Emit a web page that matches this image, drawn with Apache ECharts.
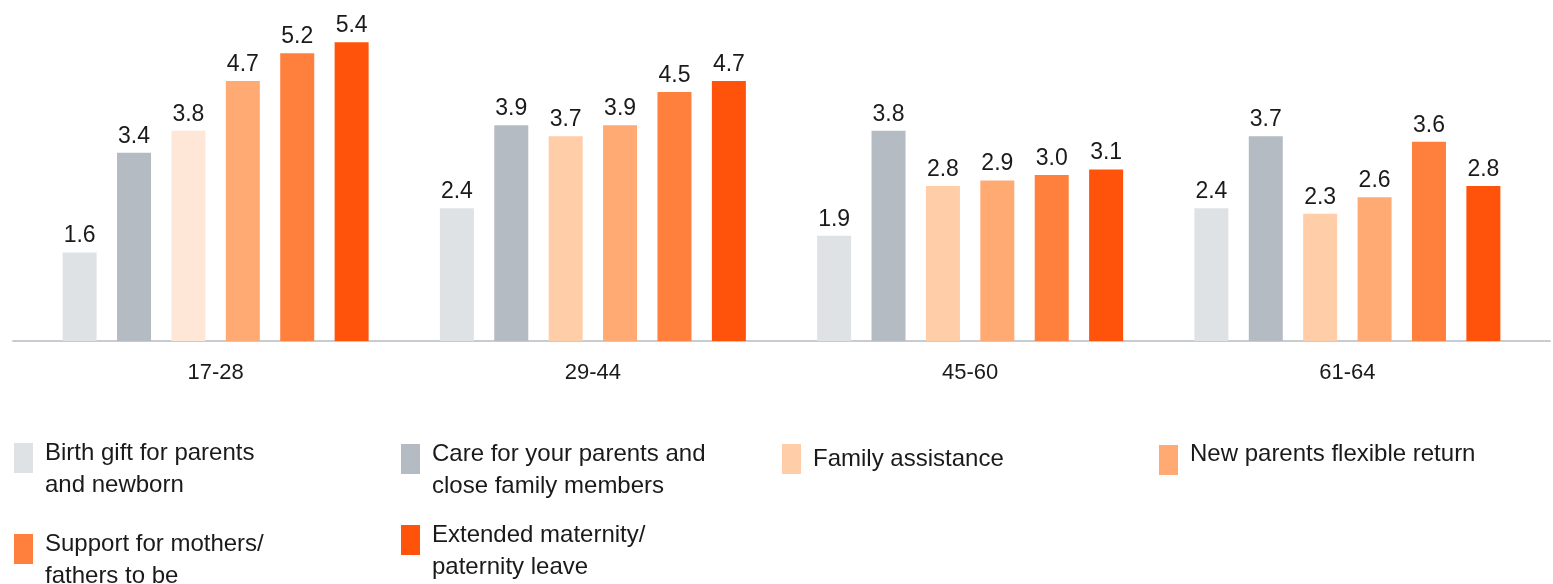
<!DOCTYPE html>
<html>
<head>
<meta charset="utf-8">
<script src="https://cdn.jsdelivr.net/npm/echarts@6/dist/echarts.min.js"></script>
<style>
html,body{margin:0;padding:0;background:#fff;}
#chart{width:1553px;height:584px;}
</style>
</head>
<body>
<div id="chart"></div>
<script>
const categories = ['17-28', '29-44', '45-60', '61-64'];
const seriesNames = [
  'Birth gift for parents and newborn',
  'Care for your parents and close family members',
  'Family assistance',
  'New parents flexible return',
  'Support for mothers/ fathers to be',
  'Extended maternity/ paternity leave'
];
const legendLabels = [
  'Birth gift for parents\nand newborn',
  'Care for your parents and\nclose family members',
  'Family assistance',
  'New parents flexible return',
  'Support for mothers/\nfathers to be',
  'Extended maternity/\npaternity leave'
];
const birthGift = [1.6, 2.4, 1.9, 2.4];
const careForParents = [3.4, 3.9, 3.8, 3.7];
const familyAssistance = [3.8, 3.7, 2.8, 2.3];
const newParentsReturn = [4.7, 3.9, 2.9, 2.6];
const supportMothers = [5.2, 4.5, 3.0, 3.6];
const extendedLeave = [5.4, 4.7, 3.1, 2.8];

const values = [birthGift, careForParents, familyAssistance, newParentsReturn, supportMothers, extendedLeave];
const colors = ['#DFE2E5', '#B5BBC2', '#FFCDA8', '#FFAA72', '#FF7F3C', '#FF520A'];
const FONT = "'Liberation Sans', Arial, Helvetica, sans-serif";

const series = values.map((vals, i) => ({
  name: seriesNames[i],
  type: 'bar',
  xAxisIndex: 0,
  yAxisIndex: 0,
  barWidth: 34,
  barGap: '60%',
  itemStyle: { color: colors[i] },
  data: vals.map((v, j) => (i === 2 && j === 0) ? { value: v, itemStyle: { color: '#FEE7D6' } } : v),
  label: {
    show: true,
    position: 'top',
    distance: 5,
    color: '#1a1a1a',
    fontSize: 23,
    fontFamily: FONT,
    formatter: p => p.value.toFixed(1)
  }
}));

// legend placement: [swatch left, swatch top, spacer above, spacer below]
const legendPos = [
  [14, 443, 22, 0],
  [401, 444, 22, 0],
  [782, 444, 0, 0],
  [1159, 445, 0, 12],
  [14, 534, 22, 0],
  [401, 525, 22, 0]
];
const LH = 32;
const legends = legendPos.map((p, i) => {
  const lines = legendLabels[i].split('\n');
  let txt = lines.join('\n');
  let H = lines.length * LH;
  if (p[2]) { txt = '{sp| }\n' + txt; H += p[2]; }
  if (p[3]) { txt = txt + '\n{sp2| }'; H += p[3]; }
  const off = Math.max(0, H / 2 - 15);
  return {
    data: [seriesNames[i]],
    left: p[0],
    top: p[1] - off,
    padding: 0,
    icon: 'rect',
    itemWidth: 19,
    itemHeight: 30,
    selectedMode: false,
    formatter: () => txt,
    textStyle: {
      fontSize: 24,
      lineHeight: LH,
      fontFamily: FONT,
      color: '#1a1a1a',
      padding: [0, 0, 0, 7],
      rich: {
        sp: { fontSize: 4, lineHeight: p[2] || 1, height: p[2] || 1 },
        sp2: { fontSize: 4, lineHeight: p[3] || 1, height: p[3] || 1 }
      }
    }
  };
});

const chart = echarts.init(document.getElementById('chart'), null, { renderer: 'canvas' });
chart.setOption({
  animation: false,
  backgroundColor: '#ffffff',
  grid: [
    { left: 27, right: 17, top: 9, bottom: 243, containLabel: false },
    { left: 13, right: 3, top: 9, bottom: 243, containLabel: false }
  ],
  xAxis: [
    {
      type: 'category',
      gridIndex: 0,
      data: categories,
      axisLine: { show: false },
      axisTick: { show: false },
      axisLabel: { color: '#1a1a1a', fontSize: 22, fontFamily: FONT, margin: 21 },
      splitLine: { show: false }
    },
    {
      type: 'category',
      gridIndex: 1,
      data: categories,
      axisLine: { show: true, lineStyle: { color: '#C8CBD0', width: 2 } },
      axisTick: { show: false },
      axisLabel: { show: false },
      splitLine: { show: false }
    }
  ],
  yAxis: [
    { type: 'value', gridIndex: 0, min: 0, max: 6, show: false, splitLine: { show: false } },
    { type: 'value', gridIndex: 1, min: 0, max: 6, show: false, splitLine: { show: false } }
  ],
  legend: legends,
  series: series
});
</script>
</body>
</html>
